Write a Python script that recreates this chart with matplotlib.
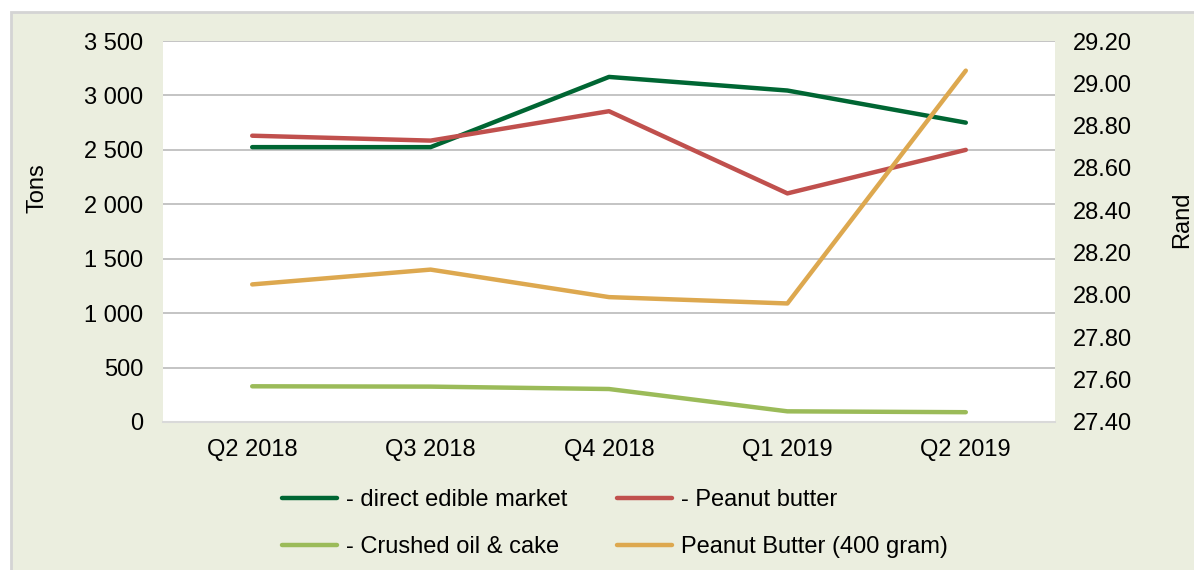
import matplotlib
matplotlib.use("Agg")
import matplotlib.pyplot as plt
from matplotlib.patches import Rectangle
from matplotlib.ticker import FuncFormatter

categories = ["Q2 2018", "Q3 2018", "Q4 2018", "Q1 2019", "Q2 2019"]
direct_edible = [2525, 2525, 3170, 3045, 2750]
peanut_butter = [2630, 2585, 2855, 2100, 2500]
crushed_oil = [328, 325, 303, 98, 90]
pb_price_400g = [28.05, 28.12, 27.99, 27.96, 29.06]

left_ticks = [0, 500, 1000, 1500, 2000, 2500, 3000, 3500]
right_ticks = [27.40, 27.60, 27.80, 28.00, 28.20, 28.40, 28.60, 28.80, 29.00, 29.20]

plt.rcParams['font.family'] = ['Liberation Sans', 'DejaVu Sans']
FS = 17
W, H = 1194, 570
fig = plt.figure(figsize=(W / 100, H / 100), dpi=100)
fig.patch.set_facecolor('white')

bg = fig.add_axes([0, 0, 1, 1], zorder=-5)
bg.set_xlim(0, W)
bg.set_ylim(H, 0)
bg.axis('off')
bg.add_patch(Rectangle((11, 12), W + 20, H + 20, facecolor='#EBEEDF', edgecolor='#D4D4D4', linewidth=2))

L, R, T, B = 163, 1055, 41, 422
ax = fig.add_axes([L / W, 1 - B / H, (R - L) / W, (B - T) / H], zorder=1)
ax.set_facecolor('white')
x = list(range(len(categories)))

c_dark = '#006633'
c_red = '#C0504D'
c_lgreen = '#9BBB59'
c_orange = '#DDA84F'

l1, = ax.plot(x, direct_edible, color=c_dark, lw=3.2, solid_capstyle='round', zorder=3)
l2, = ax.plot(x, peanut_butter, color=c_red, lw=3.2, solid_capstyle='round', zorder=3)
l3, = ax.plot(x, crushed_oil, color=c_lgreen, lw=3.2, solid_capstyle='round', zorder=3)

ax.set_xlim(-0.5, len(categories) - 0.5)
ax.set_ylim(0, 3500)
ax.set_yticks(left_ticks)
ax.yaxis.set_major_formatter(FuncFormatter(lambda v, p: f"{int(v):,}".replace(",", " ")))
ax.set_xticks(x)
ax.set_xticklabels(categories)
ax.grid(axis='y', color='#BFBFBF', linewidth=1.3)
ax.set_axisbelow(True)
for s in ['left', 'right', 'top']:
    ax.spines[s].set_visible(False)
ax.spines['bottom'].set_color('#D9D9D9')
ax.spines['bottom'].set_linewidth(1.5)
ax.tick_params(axis='both', length=0, labelsize=FS, colors='black')
ax.tick_params(axis='y', pad=14)
ax.tick_params(axis='x', pad=12)

ax2 = ax.twinx()
l4, = ax2.plot(x, pb_price_400g, color=c_orange, lw=3.2, solid_capstyle='round', zorder=3)
ax2.set_ylim(27.40, 29.20)
ax2.set_yticks(right_ticks)
ax2.yaxis.set_major_formatter(FuncFormatter(lambda v, p: f"{v:.2f}"))
for s in ['left', 'right', 'top', 'bottom']:
    ax2.spines[s].set_visible(False)
ax2.tick_params(axis='y', length=0, labelsize=FS, pad=13)

fig.text(37 / W, 1 - 188 / H, 'Tons', rotation=90, ha='center', va='center', fontsize=FS)
fig.text(1182 / W, 1 - 220 / H, 'Rand', rotation=90, ha='center', va='center', fontsize=FS)

leg = fig.legend([l1, l3, l2, l4],
                 ['- direct edible market', '- Crushed oil & cake', '- Peanut butter', 'Peanut Butter (400 gram)'],
                 ncol=2, frameon=False, fontsize=FS, handlelength=2.33, handletextpad=0.38,
                 columnspacing=2.1, labelspacing=1.05,
                 loc='upper left', bbox_to_anchor=(261 / W, 1 - 468 / H))

fig.savefig('out.png', dpi=100, facecolor='white')
